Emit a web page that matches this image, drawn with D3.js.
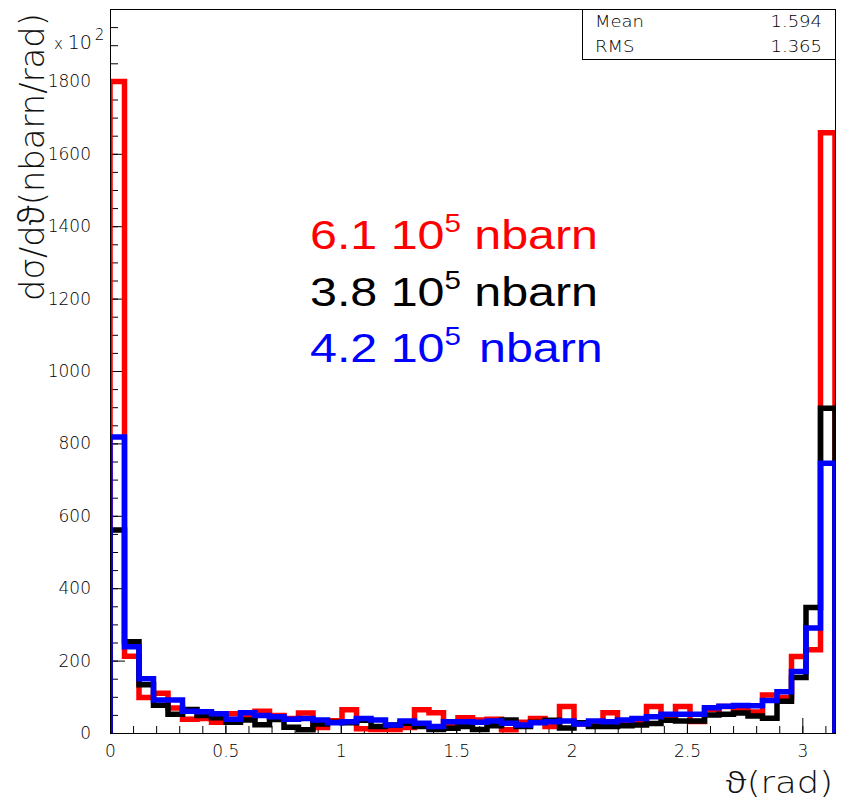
<!DOCTYPE html>
<html>
<head>
<meta charset="utf-8">
<script src="https://cdn.jsdelivr.net/npm/d3@7"></script>
<style>
  body { margin: 0; background: #fff; }
  svg { display: block; }
  .tick text { font-family: "DejaVu Sans", sans-serif; font-weight: 200; fill: #000; }
</style>
</head>
<body>
<script>
// histogram binning: 50 bins over [0, pi]
const nBins = 50;
const thetaMax = Math.PI;

// dsigma/dtheta per bin, in units of 10^2 nbarn/rad
const redValues = [1800, 212, 98, 110, 69, 38, 40, 30, 53, 45,
                   60, 48, 40, 55, 15, 34, 64, 12, 10, 10,
                   15, 64, 56, 25, 42, 36, 38, 9, 30, 40,
                   18, 73, 25, 20, 56, 30, 35, 73, 48, 73,
                   32, 65, 73, 62, 58, 105, 98, 211, 230, 1658];
const blackValues = [561, 252, 133, 77, 52, 65, 48, 42, 30, 36,
                     23, 37, 16, 9, 25, 30, 28, 35, 18, 22,
                     27, 18, 10, 13, 18, 10, 20, 36, 18, 30,
                     35, 14, 28, 18, 18, 20, 22, 26, 35, 33,
                     33, 50, 52, 55, 47, 41, 88, 153, 347, 897];
const blueValues = [818, 238, 150, 91, 91, 60, 59, 53, 38, 56,
                    48, 45, 38, 40, 36, 28, 31, 40, 36, 22,
                    33, 27, 18, 31, 31, 30, 33, 27, 22, 28,
                    31, 33, 25, 33, 31, 36, 40, 45, 52, 52,
                    52, 70, 74, 76, 75, 90, 114, 170, 290, 745];

const seriesColors = ["#ff0000", "#000000", "#0000ff"];
const xMajorTicks = [0, 0.5, 1, 1.5, 2, 2.5, 3];
const yMajorTicks = [0, 200, 400, 600, 800, 1000, 1200, 1400, 1600, 1800];
const crossSections = ["6.1", "3.8", "4.2"];
const statNames = ["Mean", "RMS"];
const statValues = ["1.594", "1.365"];

const width = 842, height = 801;
const frameLeft = 110, frameRight = 835, frameTop = 9, frameBottom = 733;

const svg = d3.select("body").append("svg")
    .attr("width", width)
    .attr("height", height);

let x = d3.scaleLinear().domain([0, thetaMax]).range([frameLeft, frameRight]);
let y = d3.scaleLinear().domain([0, 2000]).range([frameBottom, frameTop]);

// frame
svg.append("rect")
    .attr("x", frameLeft + 0.5).attr("y", frameTop + 0.5)
    .attr("width", frameRight - frameLeft).attr("height", frameBottom - frameTop)
    .attr("fill", "#fff").attr("stroke", "#000").attr("stroke-width", 1);

// x axis: minor then major ticks, drawn inside the frame
let xMinor = d3.range(0, 32).map(i => i / 10);
svg.append("g")
    .attr("transform", "translate(0," + frameBottom + ")")
    .call(d3.axisBottom(x).tickValues(xMinor).tickSize(-7).tickFormat(""))
    .call(g => g.select(".domain").remove());
svg.append("g")
    .attr("transform", "translate(0," + frameBottom + ")")
    .call(d3.axisBottom(x).tickValues(xMajorTicks).tickSize(-15).tickPadding(12)
        .tickFormat(d => String(d)))
    .call(g => g.select(".domain").remove())
    .call(g => g.selectAll("text").attr("font-size", 17));

// y axis
let yMinor = d3.range(0, 2001, 50);
svg.append("g")
    .attr("transform", "translate(" + frameLeft + ",0)")
    .call(d3.axisLeft(y).tickValues(yMinor).tickSize(-8).tickFormat(""))
    .call(g => g.select(".domain").remove());
svg.append("g")
    .attr("transform", "translate(" + frameLeft + ",0)")
    .call(d3.axisLeft(y).tickValues(yMajorTicks).tickSize(-15).tickPadding(19)
        .tickFormat(d => String(d)))
    .call(g => g.select(".domain").remove())
    .call(g => g.selectAll("text").attr("font-size", 17));
svg.selectAll(".tick line").attr("stroke", "#000");

// histograms
svg.append("clipPath").attr("id", "frameClip")
    .append("rect")
    .attr("x", frameLeft).attr("y", frameTop)
    .attr("width", frameRight - frameLeft).attr("height", frameBottom - frameTop);

let edges = d3.range(nBins + 1).map(i => thetaMax * i / nBins);
let histLine = d3.line()
    .x(d => x(d[0]))
    .y(d => y(d[1]))
    .curve(d3.curveStepAfter);

function stepPoints(values) {
    let pts = [[edges[0], 0]];
    values.forEach((v, i) => pts.push([edges[i], v]));
    pts.push([edges[nBins], values[nBins - 1]]);
    pts.push([edges[nBins], 0]);
    return pts;
}

let hists = svg.append("g").attr("clip-path", "url(#frameClip)");
[redValues, blackValues, blueValues].forEach((vals, i) => {
    hists.append("path")
        .attr("d", histLine(stepPoints(vals)))
        .attr("fill", "none")
        .attr("stroke", seriesColors[i])
        .attr("stroke-width", 5.5)
        .attr("stroke-linejoin", "miter");
});

// frame border again so it stays visible
svg.append("rect")
    .attr("x", frameLeft + 0.5).attr("y", frameTop + 0.5)
    .attr("width", frameRight - frameLeft).attr("height", frameBottom - frameTop)
    .attr("fill", "none").attr("stroke", "#000").attr("stroke-width", 1);

// stats box
let box = svg.append("g");
box.append("rect")
    .attr("x", 582.5).attr("y", frameTop + 0.5)
    .attr("width", frameRight - 582).attr("height", 50)
    .attr("fill", "#fff").attr("stroke", "#000").attr("stroke-width", 1);
statNames.forEach((name, i) => {
    let by = 27 + i * 25;
    box.append("text")
        .attr("transform", "translate(595," + by + ") scale(1.2,1)")
        .attr("font-family", "DejaVu Sans").attr("font-weight", 200)
        .attr("font-size", 15).attr("fill", "#000")
        .text(name);
    box.append("text")
        .attr("transform", "translate(822," + by + ") scale(1.2,1)")
        .attr("text-anchor", "end")
        .attr("font-family", "DejaVu Sans").attr("font-weight", 200)
        .attr("font-size", 15).attr("fill", "#000")
        .text(statValues[i]);
});

// axis titles (the theta symbol is missing from the light face, so use the regular one)
let yTitle = svg.append("text")
    .attr("transform", "translate(44,157) scale(1.18,1) rotate(-90)")
    .attr("text-anchor", "middle")
    .attr("font-family", "DejaVu Sans").attr("font-weight", 200)
    .attr("font-size", 29).attr("fill", "#111")
    .attr("textLength", 288).attr("lengthAdjust", "spacingAndGlyphs");
yTitle.append("tspan").text("dσ/d");
yTitle.append("tspan").attr("font-weight", 300).attr("font-family", "'Noto Sans', 'DejaVu Sans'").text("ϑ");
yTitle.append("tspan").text("(nbarn/rad)");

let xTitle = svg.append("text")
    .attr("transform", "translate(833,793) scale(1.18,1)")
    .attr("text-anchor", "end")
    .attr("font-family", "DejaVu Sans").attr("font-weight", 200)
    .attr("font-size", 30).attr("fill", "#111");
xTitle.append("tspan").attr("font-weight", 300).attr("font-family", "'Noto Sans', 'DejaVu Sans'").text("ϑ");
xTitle.append("tspan").text("(rad)");

// x 10^2 multiplier
let mult = svg.append("text")
    .attr("x", 54).attr("y", 49)
    .attr("font-family", "DejaVu Sans").attr("font-weight", 200)
    .attr("fill", "#000");
mult.append("tspan").attr("font-size", 15).text("x ");
mult.append("tspan").attr("font-size", 19).text("10");
mult.append("tspan").attr("font-size", 15).attr("dx", 3).attr("dy", -9).text("2");

// cross-section annotations
crossSections.forEach((val, i) => {
    let t = svg.append("text")
        .attr("transform", "translate(310," + (249 + i * 56.7) + ") scale(1.18,1)")
        .attr("font-family", "'Liberation Sans', Arial, sans-serif")
        .attr("font-size", 41)
        .attr("fill", seriesColors[i]);
    t.append("tspan").text(val + " 10");
    t.append("tspan").attr("font-size", 25).attr("dy", -17).text("5");
    t.append("tspan").attr("dy", 17).attr("dx", i === 2 ? 4 : 0).text(" nbarn");
});
</script>
</body>
</html>
